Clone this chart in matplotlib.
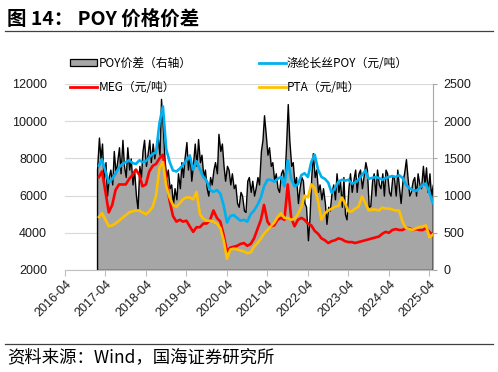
import numpy as np
import pandas as pd
import matplotlib
matplotlib.use("Agg")
import matplotlib.pyplot as plt
import matplotlib.dates as mdates
from matplotlib.patches import Patch
from matplotlib.lines import Line2D

plt.rcParams['font.family'] = ['Noto Sans CJK SC', 'DejaVu Sans']

# monthly prices, 2017-02 .. 2025-05 (yuan/ton)
price_dates = pd.date_range('2017-02-01', periods=100, freq='MS')
poy = [7600, 7950, 7300, 6700, 6900, 7200, 7500, 7700, 7800, 7900, 7750,
       7700, 7900, 7800, 7850, 8050, 8250, 8300, 9900, 10800, 8500, 7800,
       7350, 7300, 7450, 7650, 7900, 8150, 7400, 7850, 7400, 7000, 6800,
       6300, 6200, 6300, 6100, 5500, 4550, 4900, 4950, 4800, 4650, 4700,
       4600, 5000, 5200, 5500, 5900, 6500, 6850, 6850, 6750, 6900, 7000,
       6500, 7900, 6900, 6500, 6600, 7100, 7200, 7000, 7800, 8200, 7400,
       7000, 6900, 6700, 6150, 6400, 6750, 6850, 6800, 6850, 6650, 6700,
       6850, 7100, 7350, 6900, 6950, 7000, 6950, 6850, 6950, 7000, 7050,
       7000, 7100, 6950, 6600, 6400, 6300, 6250, 6400, 6600, 6650, 6150,
       5600]
meg = [7000, 7300, 6200, 5100, 5500, 6300, 6600, 6600, 6600, 6900, 7100,
       7400, 7100, 6500, 6600, 7300, 7600, 7700, 8000, 8200, 6900, 5700,
       4900, 4600, 4700, 4600, 4650, 4350, 4050, 4300, 4300, 4500, 4500,
       4700, 5200, 4800, 4600, 3900, 3000, 3200, 3250, 3300, 3400, 3450,
       3300, 3400, 3700, 4200, 4700, 5500, 4600, 4350, 4400, 4700, 4800,
       4700, 6600, 4800, 4350, 4700, 4800, 4700, 4500, 4400, 4100, 3950,
       3700, 3600, 3450, 3550, 3600, 3700, 3650, 3550, 3500, 3500, 3450,
       3500, 3550, 3600, 3650, 3700, 3750, 3800, 3950, 4050, 4000, 4150,
       4200, 4150, 4150, 4250, 4250, 4150, 4200, 4150, 4150, 4250, 4050,
       3900]
pta = [4850, 5050, 4700, 4350, 4400, 4500, 4650, 4800, 4950, 5100, 5150,
       5200, 5200, 5100, 5000, 5150, 5400, 6000, 7500, 7800, 6500, 5900,
       5500, 5400, 5600, 5800, 5900, 5900, 5800, 6200, 5000, 4750, 4650,
       4650, 4600, 4500, 4250, 3600, 2600, 3100, 3150, 3100, 3050, 3000,
       2900, 2950, 3250, 3450, 3700, 3950, 4150, 4350, 4550, 4850, 5050,
       4800, 4800, 4700, 4750, 5000, 5400, 6000, 5900, 6600, 6400, 5700,
       4700, 5050, 5200, 5300, 5400, 5450, 5900, 5600, 5150, 5150, 5300,
       5400, 5950, 5600, 5200, 5250, 5250, 5200, 5350, 5300, 5300, 5250,
       5200, 5200, 4600, 4250, 4200, 4150, 4250, 4300, 4350, 4400, 3750,
       3900]

# POY spread, twice a month (right axis)
spread_dates = pd.date_range('2017-01-15', periods=200, freq='SMS')
spread = [1350, 1780, 1500, 1700, 1200, 1450, 1000, 1250, 1350, 1150,
          1600, 1300, 1450, 1650, 1300, 1750, 1400, 1250, 1650, 1350,
          1500, 1150, 1350, 1000, 820, 1400, 1250, 1600, 1750, 1400,
          1550, 1750, 1450, 1700, 1500, 1650, 1800, 1550, 2300, 1900,
          1500, 1250, 1350, 1100, 1150, 880, 1100, 950, 1300, 1100,
          1450, 1250, 1500, 1720, 1350, 1550, 1200, 1450, 1700, 1400,
          1760, 1450, 1550, 1250, 1350, 1100, 1000, 1250, 1150, 1350,
          1450, 1300, 1830, 1600, 1700, 1400, 1200, 1400, 1350, 1150,
          1300, 1100, 1150, 900, 850, 1050, 1000, 800, 780, 1200,
          1250, 1050, 1200, 1000, 1100, 1250, 1150, 1600, 1750, 2080,
          1850, 1550, 1650, 1400, 1450, 1200, 1300, 1100, 1050, 1300,
          1350, 1200, 1650, 2230, 1750, 1400, 1450, 1150, 1250, 900,
          1100, 1250, 1200, 900, 850, 400, 700, 1250, 1570, 1250,
          1350, 1050, 1150, 950, 1100, 900, 620, 850, 800, 1050,
          1150, 950, 1300, 1050, 1200, 850, 1250, 750, 680, 1100,
          1300, 1050, 1200, 1350, 1050, 1300, 1350, 1100, 1250, 1450,
          1350, 850, 860, 1200, 1300, 1000, 1350, 1150, 1100, 1300,
          1000, 1350, 1300, 1050, 1000, 1250, 1250, 1000, 1350, 1100,
          900, 1200, 1300, 1490, 1250, 1000, 1050, 1200, 1250, 1000,
          1300, 1150, 1100, 1400, 1150, 1380, 1050, 1300, 1000, 1150]

labels = ['POY价差（右轴）', 'MEG（元/吨）', '涤纶长丝POY（元/吨）', 'PTA（元/吨）']
left_ticks = [2000, 4000, 6000, 8000, 10000, 12000]
right_ticks = [0, 500, 1000, 1500, 2000, 2500]
year_ticks = pd.date_range('2016-04-01', '2025-04-01', freq='12MS')

fig = plt.figure(figsize=(4.98, 3.72), dpi=100)
ax = fig.add_axes([65 / 498, 1 - 270 / 372, 368 / 498, 186 / 372])
ax2 = ax.twinx()

# spread area on host axis (drawn underneath)
ax.fill_between(spread_dates, spread, 0, facecolor='#A6A6A6',
                edgecolor='black', linewidth=1.0, zorder=2)
ax.set_ylim(0, 2500)
ax.set_yticks(right_ticks)
ax.yaxis.set_ticks_position('right')
ax.yaxis.set_label_position('right')
ax.grid(axis='y', color='#D9D9D9', linewidth=0.8, zorder=0)
ax.set_axisbelow(True)

ax2.plot(price_dates, poy, color='#00B0F0', lw=1.9, zorder=3)
ax2.plot(price_dates, meg, color='#FF0000', lw=1.9, zorder=4)
ax2.plot(price_dates, pta, color='#FFC000', lw=1.9, zorder=5)
ax2.set_ylim(2000, 12000)
ax2.set_yticks(left_ticks)
ax2.yaxis.set_ticks_position('left')
ax2.yaxis.set_label_position('left')

ax.set_xlim(pd.Timestamp('2016-04-01'), pd.Timestamp('2025-05-03'))
ax.set_xticks(year_ticks)
ax.xaxis.set_major_formatter(mdates.DateFormatter('%Y-%m'))

for a in (ax, ax2):
    for s in a.spines.values():
        s.set_visible(False)
ax.spines['bottom'].set_visible(True)
ax.spines['bottom'].set_color('#BFBFBF')
ax.spines['right'].set_visible(True)
ax.spines['right'].set_color('#A6A6A6')

tick_font = ['Liberation Sans', 'DejaVu Sans']
ax.tick_params(axis='x', length=4, color='#BFBFBF', labelsize=9, pad=2)
ax.tick_params(axis='y', length=3, color='#A6A6A6', labelsize=9, pad=4.5)
ax2.tick_params(axis='y', length=0, labelsize=9, pad=13)
for lab in ax.get_xticklabels():
    lab.set_rotation(45)
    lab.set_ha('right')
    lab.set_rotation_mode('anchor')
for lab in ax.get_xticklabels() + ax.get_yticklabels() + ax2.get_yticklabels():
    lab.set_family(tick_font)
    lab.set_color('#1A1A1A')

handles = [Patch(facecolor='#A6A6A6', edgecolor='black', linewidth=0.9),
           Line2D([], [], color='#FF0000', lw=2),
           Line2D([], [], color='#00B0F0', lw=2),
           Line2D([], [], color='#FFC000', lw=2)]
fig.legend(handles, labels, loc='upper left', bbox_to_anchor=(70 / 498, 1 - 57 / 372),
           ncol=2, frameon=False, fontsize=8.5, handlelength=2.3, handleheight=0.55,
           handletextpad=0.1, columnspacing=5.7, labelspacing=0.9,
           borderaxespad=0, borderpad=0)

# title, rules and source
fig.text(7 / 498, 1 - 19 / 372, '图 14： POY 价格价差', fontsize=14,
         fontweight='bold', va='center', ha='left')
fig.add_artist(Line2D([5 / 498, 493 / 498], [1 - 31 / 372] * 2, color='#404040', lw=0.9))
fig.add_artist(Line2D([5 / 498, 493 / 498], [1 - 344 / 372] * 2, color='#404040', lw=0.9))
fig.text(7 / 498, 1 - 357 / 372, '资料来源：Wind，国海证券研究所', fontsize=12.5,
         va='center', ha='left')

fig.savefig('out.png', dpi=100)
